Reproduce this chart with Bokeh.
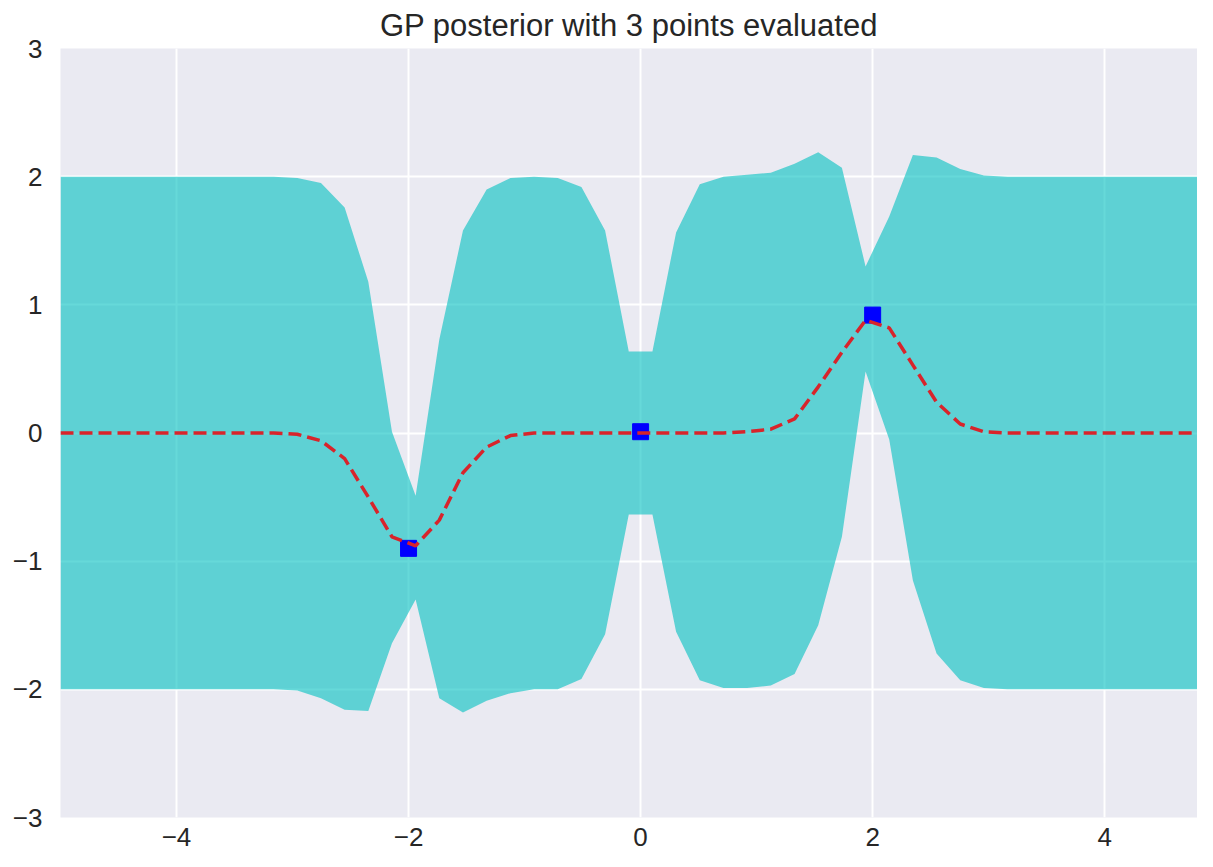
from bokeh.plotting import figure
from bokeh.models import FixedTicker, Range1d
from bokeh.embed import file_html
from bokeh.resources import INLINE

# ---- data ----
x_grid = [-5.000, -4.796, -4.592, -4.388, -4.184, -3.980, -3.776, -3.571, -3.367, -3.163,
          -2.959, -2.755, -2.551, -2.347, -2.143, -1.939, -1.735, -1.531, -1.327, -1.122,
          -0.918, -0.714, -0.510, -0.306, -0.102, 0.102, 0.306, 0.510, 0.714, 0.918,
          1.122, 1.327, 1.531, 1.735, 1.939, 2.143, 2.347, 2.551, 2.755, 2.959,
          3.163, 3.367, 3.571, 3.776, 3.980, 4.184, 4.388, 4.592, 4.796, 5.000]

upper = [2.00, 2.00, 2.00, 2.00, 2.00, 2.00, 2.00, 2.00, 2.00, 2.00,
         1.99, 1.95, 1.76, 1.18, 0.01, -0.49, 0.73, 1.58, 1.90, 1.99,
         2.00, 1.99, 1.92, 1.58, 0.635, 0.635, 1.565, 1.94, 2.00, 2.015,
         2.03, 2.10, 2.19, 2.07, 1.30, 1.69, 2.17, 2.15, 2.06, 2.01,
         2.00, 2.00, 2.00, 2.00, 2.00, 2.00, 2.00, 2.00, 2.00, 2.00]

lower = [-2.00, -2.00, -2.00, -2.00, -2.00, -2.00, -2.00, -2.00, -2.00, -2.00,
         -2.01, -2.07, -2.16, -2.17, -1.64, -1.30, -2.07, -2.18, -2.09, -2.03,
         -2.00, -2.00, -1.92, -1.57, -0.635, -0.635, -1.55, -1.93, -1.99, -1.99,
         -1.97, -1.88, -1.50, -0.81, 0.48, -0.05, -1.15, -1.72, -1.93, -1.99,
         -2.00, -2.00, -2.00, -2.00, -2.00, -2.00, -2.00, -2.00, -2.00, -2.00]

mean = [0.00, 0.00, 0.00, 0.00, 0.00, 0.00, 0.00, 0.00, 0.00, 0.00,
        -0.01, -0.06, -0.20, -0.50, -0.81, -0.88, -0.68, -0.31, -0.11, -0.02,
        0.00, 0.00, 0.00, 0.00, 0.00, 0.00, 0.00, 0.00, 0.00, 0.01,
        0.03, 0.11, 0.36, 0.63, 0.88, 0.82, 0.53, 0.24, 0.07, 0.01,
        0.00, 0.00, 0.00, 0.00, 0.00, 0.00, 0.00, 0.00, 0.00, 0.00]

x_obs = [-2.0, 0.0, 2.0]
y_obs = [-0.90, 0.01, 0.92]

x_ticks = [-4, -2, 0, 2, 4]
y_ticks = [-3, -2, -1, 0, 1, 2, 3]
x_tick_labels = ["\u22124", "\u22122", "0", "2", "4"]
y_tick_labels = ["\u22123", "\u22122", "\u22121", "0", "1", "2", "3"]

title_text = "GP posterior with 3 points evaluated"

# ---- figure ----
FONT = "Liberation Sans"
TXT = "#262626"

p = figure(width=1197, height=851, output_backend="svg", toolbar_location=None,
           x_range=Range1d(-5, 4.80), y_range=Range1d(-3, 3),
           min_border_left=60, min_border_right=0, min_border_top=0, min_border_bottom=34)

p.background_fill_color = "#EAEAF2"
p.border_fill_color = "white"
p.outline_line_color = None

p.title.text = title_text
p.title.align = "center"
p.title.text_font = FONT
p.title.text_font_size = "31px"
p.title.text_font_style = "normal"
p.title.text_color = TXT
p.title.standoff = 11

for ax in (p.xaxis[0], p.yaxis[0]):
    ax.axis_line_color = None
    ax.major_tick_line_color = None
    ax.minor_tick_line_color = None
    ax.major_label_text_font = FONT
    ax.major_label_text_font_size = "26px"
    ax.major_label_text_color = TXT
p.yaxis[0].major_label_standoff = 12
p.xaxis[0].major_label_standoff = 4

p.xaxis[0].ticker = FixedTicker(ticks=x_ticks)
p.yaxis[0].ticker = FixedTicker(ticks=y_ticks)
p.xaxis[0].major_label_overrides = {t: s for t, s in zip(x_ticks, x_tick_labels)}
p.yaxis[0].major_label_overrides = {t: s for t, s in zip(y_ticks, y_tick_labels)}

p.xgrid[0].ticker = FixedTicker(ticks=x_ticks)
p.ygrid[0].ticker = FixedTicker(ticks=y_ticks)
for g in (p.xgrid[0], p.ygrid[0]):
    g.grid_line_color = "white"
    g.grid_line_width = 2

p.varea(x=x_grid, y1=lower, y2=upper, fill_color="#00BFBF", fill_alpha=0.6)
p.scatter(x=x_obs, y=y_obs, marker="square", size=16, fill_color="#0000FF", line_color="#0000FF")
p.line(x=x_grid, y=mean, line_color="#D8242B", line_width=3.5, line_dash="13 6")

open("out.html", "w").write(file_html(p, INLINE))
